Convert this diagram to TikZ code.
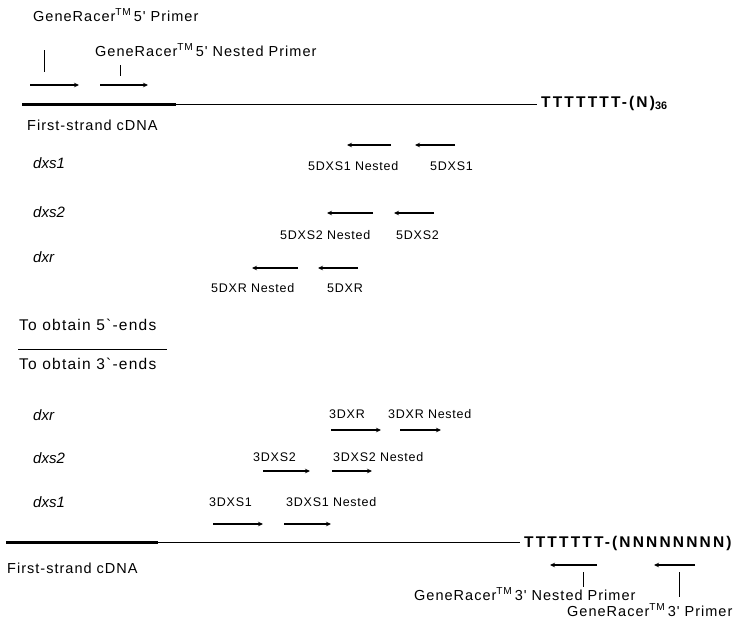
\documentclass[tikz,border=0pt]{standalone}
\usepackage{fontspec}
\setmainfont{Liberation Sans}
\usetikzlibrary{arrows.meta}
\newfontfamily\txtfont[LetterSpace=7]{Liberation Sans}
\newfontfamily\obfont[LetterSpace=8]{Liberation Sans}
\newfontfamily\lblfont[LetterSpace=6]{Liberation Sans}
\newfontfamily\tailfont[LetterSpace=14]{Liberation Sans}
\begin{document}
\begin{tikzpicture}[x=1pt,y=-1pt,
  txt/.style={inner sep=0pt,anchor=west,font=\txtfont\fontsize{14.5}{16}\selectfont},
  ob/.style={inner sep=0pt,anchor=west,font=\obfont\fontsize{15.5}{17}\selectfont},
  lbl/.style={inner sep=0pt,anchor=west,font=\lblfont\fontsize{12.5}{14}\selectfont},
  gene/.style={inner sep=0pt,anchor=west,font=\fontsize{15}{17}\selectfont\itshape},
  tail/.style={inner sep=0pt,anchor=west,font=\tailfont\fontsize{15.5}{17}\selectfont\bfseries},
  prim/.style={line width=1.3pt,-{Stealth[length=5pt,width=4.5pt]}},
  tick/.style={line width=0.8pt},
  thick strand/.style={line width=3pt},
  thin strand/.style={line width=1pt}]
\useasboundingbox (0,0) rectangle (741,625);
% ---------- top: 5' RACE ----------
\node[txt] (gr5) at (33,15) {GeneRacer\textsuperscript{TM}\,5' Primer};
\node[txt] (gr5n) at (95,50) {GeneRacer\textsuperscript{TM}\,5' Nested Primer};
\coordinate (t1a) at (44,50); \coordinate (t1b) at (44,72);
\draw[tick] (t1a) -- (t1b);
\coordinate (t2a) at (120,65); \coordinate (t2b) at (120,76);
\draw[tick] (t2a) -- (t2b);
\coordinate (a1s) at (30,85); \coordinate (a1e) at (79,85);
\draw[prim] (a1s) -- (a1e);
\coordinate (a2s) at (100,85); \coordinate (a2e) at (148,85);
\draw[prim] (a2s) -- (a2e);
\coordinate (s1a) at (22,104); \coordinate (s1b) at (176,104); \coordinate (s1c) at (537,104);
\draw[thick strand] (s1a) -- (s1b);
\draw[thin strand] (s1b) -- (s1c);
\node[tail] (tail1) at (541,103) {TTTTTTT-(N)$_{\mathbf{36}}$};
\node[txt] (fs1) at (27,125) {First-strand cDNA};
% genes
\node[gene] (g1) at (33,163) {dxs1};
\node[gene] (g2) at (33,212) {dxs2};
\node[gene] (g3) at (33,257) {dxr};
% dxs1 reverse primers
\coordinate (r1s) at (391,145); \coordinate (r1e) at (347,145);
\draw[prim] (r1s) -- (r1e);
\coordinate (r2s) at (455,145); \coordinate (r2e) at (415,145);
\draw[prim] (r2s) -- (r2e);
\node[lbl] (l1) at (308,166) {5DXS1 Nested};
\node[lbl] (l2) at (430,166) {5DXS1};
% dxs2
\coordinate (r3s) at (373,213); \coordinate (r3e) at (327,213);
\draw[prim] (r3s) -- (r3e);
\coordinate (r4s) at (434,213); \coordinate (r4e) at (394,213);
\draw[prim] (r4s) -- (r4e);
\node[lbl] (l3) at (280,235) {5DXS2 Nested};
\node[lbl] (l4) at (396,235) {5DXS2};
% dxr
\coordinate (r5s) at (298,268); \coordinate (r5e) at (252,268);
\draw[prim] (r5s) -- (r5e);
\coordinate (r6s) at (358,268); \coordinate (r6e) at (318,268);
\draw[prim] (r6s) -- (r6e);
\node[lbl] (l5) at (211,288) {5DXR Nested};
\node[lbl] (l6) at (327,288) {5DXR};
% separator
\node[ob] (ob5) at (19,325) {To obtain 5`-ends};
\coordinate (sepa) at (18,349); \coordinate (sepb) at (167,349);
\draw[line width=0.6pt] (sepa) -- (sepb);
\node[ob] (ob3) at (19,364) {To obtain 3`-ends};
% ---------- bottom: 3' RACE ----------
\node[gene] (g4) at (33,415) {dxr};
\node[gene] (g5) at (33,458) {dxs2};
\node[gene] (g6) at (33,502) {dxs1};
\node[lbl] (m1) at (329,414) {3DXR};
\node[lbl] (m2) at (388,414) {3DXR Nested};
\coordinate (f1s) at (331,430); \coordinate (f1e) at (381,430);
\draw[prim] (f1s) -- (f1e);
\coordinate (f2s) at (400,430); \coordinate (f2e) at (441,430);
\draw[prim] (f2s) -- (f2e);
\node[lbl] (m3) at (253,457) {3DXS2};
\node[lbl] (m4) at (333,457) {3DXS2 Nested};
\coordinate (f3s) at (263,471); \coordinate (f3e) at (310,471);
\draw[prim] (f3s) -- (f3e);
\coordinate (f4s) at (332,471); \coordinate (f4e) at (372,471);
\draw[prim] (f4s) -- (f4e);
\node[lbl] (m5) at (209,502) {3DXS1};
\node[lbl] (m6) at (286,502) {3DXS1 Nested};
\coordinate (f5s) at (213,524); \coordinate (f5e) at (263,524);
\draw[prim] (f5s) -- (f5e);
\coordinate (f6s) at (284,524); \coordinate (f6e) at (331,524);
\draw[prim] (f6s) -- (f6e);
% bottom strand
\coordinate (s2a) at (6,542); \coordinate (s2b) at (158,542); \coordinate (s2c) at (520,542);
\draw[thick strand] (s2a) -- (s2b);
\draw[thin strand] (s2b) -- (s2c);
\node[tail] (tail2) at (524,543) {TTTTTTT-(NNNNNNNN)};
\node[txt] (fs2) at (7,568) {First-strand cDNA};
% 3' primers
\coordinate (p1s) at (597,565); \coordinate (p1e) at (550,565);
\draw[prim] (p1s) -- (p1e);
\coordinate (p2s) at (695,565); \coordinate (p2e) at (654,565);
\draw[prim] (p2s) -- (p2e);
\coordinate (t3a) at (583,572); \coordinate (t3b) at (583,587);
\draw[tick] (t3a) -- (t3b);
\coordinate (t4a) at (679,572); \coordinate (t4b) at (679,597);
\draw[tick] (t4a) -- (t4b);
\node[txt] (gr3n) at (414,594) {GeneRacer\textsuperscript{TM}\,3' Nested Primer};
\node[txt] (gr3) at (567,610) {GeneRacer\textsuperscript{TM}\,3' Primer};
\end{tikzpicture}
\end{document}
